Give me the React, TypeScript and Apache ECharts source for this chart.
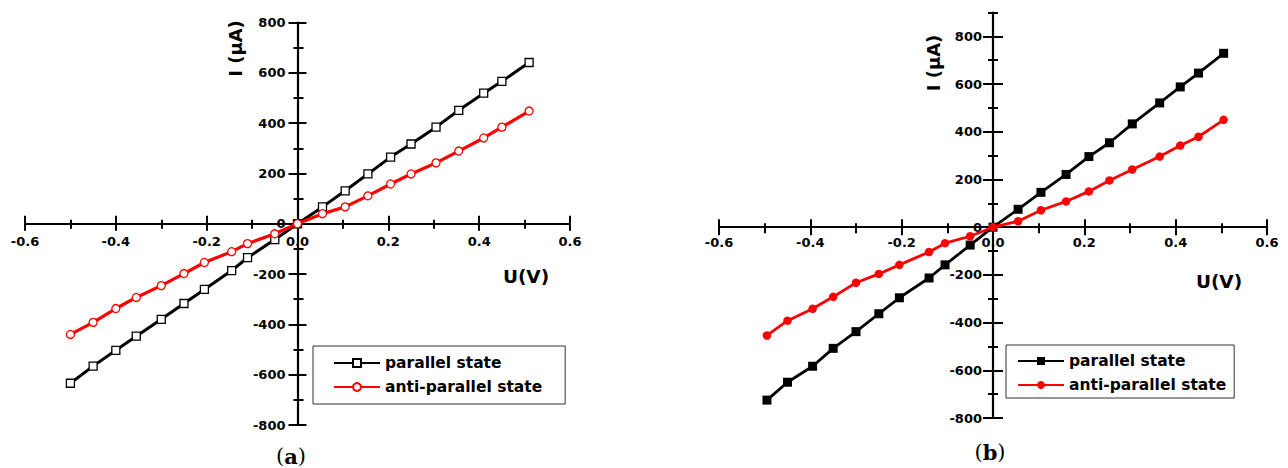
import React, { useEffect, useRef } from "react";
import * as echarts from "echarts";

// ---- data ----
const seriesNames = ["parallel state", "anti-parallel state"];

// (a) panel
const voltageA = [-0.5, -0.45, -0.4, -0.355, -0.3, -0.25, -0.205, -0.145, -0.11, -0.05, 0, 0.055, 0.105, 0.155, 0.205, 0.25, 0.305, 0.355, 0.41, 0.45, 0.51];
const parallelA = [-634, -566, -503, -447, -380, -317, -261, -186, -135, -63, 0, 67, 131, 198, 265, 317, 384, 451, 519, 566, 641];
const antiParallelA = [-440, -392, -337, -293, -246, -198, -154, -111, -79, -40, 0, 40, 67, 111, 158, 198, 242, 289, 341, 384, 448];

// (b) panel
const voltageB = [-0.495, -0.45, -0.395, -0.35, -0.3, -0.25, -0.205, -0.14, -0.105, -0.05, 0, 0.055, 0.105, 0.16, 0.21, 0.255, 0.305, 0.365, 0.41, 0.45, 0.505];
const parallelB = [-725, -650, -583, -508, -438, -363, -296, -213, -158, -75, 0, 75, 146, 221, 296, 354, 433, 521, 588, 646, 729];
const antiParallelB = [-454, -392, -342, -292, -233, -196, -158, -104, -67, -38, 0, 25, 71, 108, 150, 196, 242, 296, 342, 379, 450];

// ticks
const xMajorTicks = [-0.6, -0.4, -0.2, 0, 0.2, 0.4, 0.6];
const xMinorTicks = [-0.5, -0.3, -0.1, 0.1, 0.3, 0.5];
const yMajorTicks = [-800, -600, -400, -200, 0, 200, 400, 600, 800];
const yMinorTicksA = [-700, -500, -300, -100, 100, 300, 500, 700];
const yMinorTicksB = [-700, -500, -300, -100, 100, 300, 500, 700, 900];

const SANS = "DejaVu Sans";
const SERIF = "DejaVu Serif";

type Rect = { left: number; top: number; width: number; height: number };

function pairs(xs: number[], ys: number[]) {
  return xs.map((x, i) => [x, ys[i]]);
}

function makeAxes(
  dim: "x" | "y",
  grid: number,
  rect: Rect,
  xRange: [number, number],
  yRange: [number, number],
  majors: number[],
  minors: number[],
  labelMargin: number,
  majorLen: [number, number],
  minorLen: [number, number],
  formatter: (v: number) => string
) {
  const zeroX = rect.left + (rect.width * (0 - xRange[0])) / (xRange[1] - xRange[0]);
  const zeroY = rect.top + (rect.height * yRange[1]) / (yRange[1] - yRange[0]);
  const sides = dim === "x" ? ["bottom", "top"] : ["left", "right"];
  const offsets =
    dim === "x"
      ? [-(rect.top + rect.height - zeroY), -(zeroY - rect.top)]
      : [-(zeroX - rect.left), -(rect.left + rect.width - zeroX)];
  const range = dim === "x" ? xRange : yRange;
  const common: any = {
    type: "value",
    gridIndex: grid,
    min: range[0],
    max: range[1],
    splitLine: { show: false },
    axisPointer: { show: false },
  };
  const hiddenLine = { show: false, onZero: false };
  const tickStyle = { color: "#000", width: 2 };
  return [
    {
      ...common,
      position: sides[0],
      offset: offsets[0],
      axisLine: { show: true, onZero: false, lineStyle: { color: "#000", width: 2.2 } },
      axisTick: { show: true, customValues: majors, length: majorLen[0], lineStyle: tickStyle },
      axisLabel: {
        show: true,
        customValues: majors,
        margin: labelMargin,
        formatter,
        color: "#000",
        fontFamily: SANS,
        fontWeight: "bold",
        fontSize: 13,
      },
    },
    {
      ...common,
      position: sides[0],
      offset: offsets[0],
      axisLine: hiddenLine,
      axisTick: { show: true, customValues: minors, length: minorLen[0], lineStyle: tickStyle },
      axisLabel: { show: false },
    },
    {
      ...common,
      position: sides[1],
      offset: offsets[1],
      axisLine: hiddenLine,
      axisTick: { show: true, customValues: majors, length: majorLen[1], lineStyle: tickStyle },
      axisLabel: { show: false },
    },
    {
      ...common,
      position: sides[1],
      offset: offsets[1],
      axisLine: hiddenLine,
      axisTick: { show: true, customValues: minors, length: minorLen[1], lineStyle: tickStyle },
      axisLabel: { show: false },
    },
  ];
}

const fmtX = (v: number) => v.toFixed(1);
const fmtY = (v: number) => String(Math.round(v));

const legendText = { fontFamily: SANS, fontWeight: "bold", fontSize: 15.5, color: "#000" };

export default function App() {
  const ref = useRef<HTMLDivElement>(null);

  useEffect(() => {
    if (!ref.current) return;
    const chart = echarts.init(ref.current, null, { renderer: "svg" });

    const rectA: Rect = { left: 25, top: 22.5, width: 545, height: 402.5 };
    const rectB: Rect = { left: 719, top: 12.5, width: 548, height: 405.5 };
    const xRange: [number, number] = [-0.6, 0.6];
    const yRangeA: [number, number] = [-800, 800];
    const yRangeB: [number, number] = [-800, 900];

    const xAxis = [
      ...makeAxes("x", 0, rectA, xRange, yRangeA, xMajorTicks, xMinorTicks, 11, [7, 8], [5, 4], fmtX),
      ...makeAxes("x", 1, rectB, xRange, yRangeB, xMajorTicks, xMinorTicks, 9, [8, 8], [6, 4], fmtX),
    ];
    const yAxis = [
      ...makeAxes("y", 0, rectA, xRange, yRangeA, yMajorTicks, yMinorTicksA, 12, [9, 9], [4, 6], fmtY),
      ...makeAxes("y", 1, rectB, xRange, yRangeB, yMajorTicks, yMinorTicksB, 11, [10, 10], [5, 5], fmtY),
    ];

    const option: any = {
      animation: false,
      backgroundColor: "#fff",
      grid: [
        { ...rectA, outerBoundsMode: "none", containLabel: false },
        { ...rectB, outerBoundsMode: "none", containLabel: false },
      ],
      xAxis,
      yAxis,
      legend: [
        {
          data: seriesNames,
          orient: "vertical",
          left: 313,
          top: 346,
          padding: [9, 23, 9, 20],
          itemGap: 8,
          itemWidth: 46,
          itemHeight: 10,
          borderColor: "#333",
          borderWidth: 1,
          backgroundColor: "#fff",
          textStyle: legendText,
          selectedMode: false,
        },
        {
          data: seriesNames.map((n) => n + " (b)"),
          formatter: (n: string) => n.replace(" (b)", ""),
          orient: "vertical",
          left: 1006,
          top: 345,
          padding: [8, 8, 5, 11],
          itemGap: 8,
          itemWidth: 46,
          itemHeight: 10,
          borderColor: "#333",
          borderWidth: 1,
          backgroundColor: "#fff",
          textStyle: legendText,
          selectedMode: false,
        },
      ],
      series: [
        {
          name: seriesNames[0],
          type: "line",
          xAxisIndex: 0,
          yAxisIndex: 0,
          data: pairs(voltageA, parallelA),
          symbol: "rect",
          symbolSize: 8,
          showAllSymbol: true,
          lineStyle: { color: "#000", width: 3 },
          itemStyle: { color: "#fff", borderColor: "#000", borderWidth: 1.3 },
          z: 3,
        },
        {
          name: seriesNames[1],
          type: "line",
          xAxisIndex: 0,
          yAxisIndex: 0,
          data: pairs(voltageA, antiParallelA),
          symbol: "circle",
          symbolSize: 8,
          showAllSymbol: true,
          lineStyle: { color: "#ff0000", width: 3.2 },
          itemStyle: { color: "#fff", borderColor: "#ff0000", borderWidth: 1.3 },
          z: 4,
        },
        {
          name: seriesNames[0] + " (b)",
          type: "line",
          xAxisIndex: 4,
          yAxisIndex: 4,
          data: pairs(voltageB, parallelB),
          symbol: "rect",
          symbolSize: 9,
          showAllSymbol: true,
          lineStyle: { color: "#000", width: 2.8 },
          itemStyle: { color: "#000" },
          z: 3,
        },
        {
          name: seriesNames[1] + " (b)",
          type: "line",
          xAxisIndex: 4,
          yAxisIndex: 4,
          data: pairs(voltageB, antiParallelB),
          symbol: "circle",
          symbolSize: 8.5,
          showAllSymbol: true,
          lineStyle: { color: "#ff0000", width: 2.8 },
          itemStyle: { color: "#ff0000" },
          z: 4,
        },
      ],
      graphic: [
        {
          type: "text",
          x: 235,
          y: 48.5,
          rotation: Math.PI / 2,
          style: {
            text: "I (μA)",
            fontFamily: SANS,
            fontWeight: "bold",
            fontSize: 18,
            fill: "#000",
            align: "center",
            verticalAlign: "middle",
          },
        },
        {
          type: "text",
          x: 526,
          y: 276,
          style: {
            text: "U(V)",
            fontFamily: SANS,
            fontWeight: "bold",
            fontSize: 18.5,
            fill: "#000",
            align: "center",
            verticalAlign: "middle",
          },
        },
        {
          type: "text",
          x: 933,
          y: 63,
          rotation: Math.PI / 2,
          style: {
            text: "I (μA)",
            fontFamily: SANS,
            fontWeight: "bold",
            fontSize: 18,
            fill: "#000",
            align: "center",
            verticalAlign: "middle",
          },
        },
        {
          type: "text",
          x: 1219,
          y: 281,
          style: {
            text: "U(V)",
            fontFamily: SANS,
            fontWeight: "bold",
            fontSize: 18.5,
            fill: "#000",
            align: "center",
            verticalAlign: "middle",
          },
        },
        {
          type: "text",
          x: 291,
          y: 456,
          style: {
            text: "{p|(}{b|a}{p|)}",
            align: "center",
            verticalAlign: "middle",
            rich: {
              p: { fontFamily: SERIF, fontSize: 21, fill: "#000" },
              b: { fontFamily: SERIF, fontWeight: "bold", fontSize: 21, fill: "#000" },
            },
          },
        },
        {
          type: "text",
          x: 990,
          y: 452,
          style: {
            text: "{p|(}{b|b}{p|)}",
            align: "center",
            verticalAlign: "middle",
            rich: {
              p: { fontFamily: SERIF, fontSize: 21, fill: "#000" },
              b: { fontFamily: SERIF, fontWeight: "bold", fontSize: 21, fill: "#000" },
            },
          },
        },
      ],
    };

    chart.setOption(option);
    return () => {
      chart.dispose();
    };
  }, []);

  return (
    <div
      ref={ref}
      style={{ position: "absolute", left: 0, top: 0, width: 1288, height: 468, background: "#fff" }}
    />
  );
}
